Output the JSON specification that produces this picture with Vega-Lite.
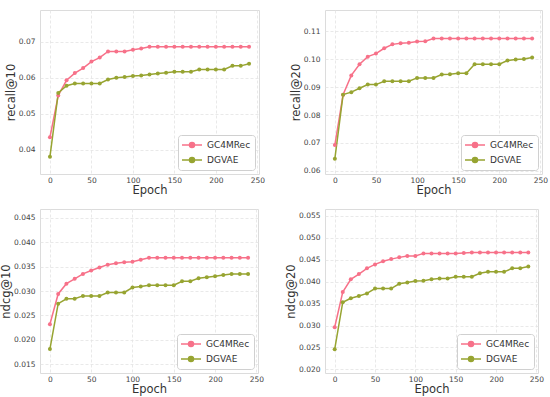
{
  "$schema": "https://vega.github.io/schema/vega-lite/v6.json",
  "padding": {"left": 0, "top": 9, "right": 0, "bottom": 0},
  "background": "white",
  "datasets": {
    "r10": [
      {"epoch":0,"model":"GC4MRec","value":0.0435},{"epoch":10,"model":"GC4MRec","value":0.0551},{"epoch":20,"model":"GC4MRec","value":0.0593},{"epoch":30,"model":"GC4MRec","value":0.0613},{"epoch":40,"model":"GC4MRec","value":0.0627},{"epoch":50,"model":"GC4MRec","value":0.0645},{"epoch":60,"model":"GC4MRec","value":0.0656},{"epoch":70,"model":"GC4MRec","value":0.0673},{"epoch":80,"model":"GC4MRec","value":0.0673},{"epoch":90,"model":"GC4MRec","value":0.0673},{"epoch":100,"model":"GC4MRec","value":0.0678},{"epoch":110,"model":"GC4MRec","value":0.0681},{"epoch":120,"model":"GC4MRec","value":0.0686},{"epoch":130,"model":"GC4MRec","value":0.0686},{"epoch":140,"model":"GC4MRec","value":0.0686},{"epoch":150,"model":"GC4MRec","value":0.0686},{"epoch":160,"model":"GC4MRec","value":0.0686},{"epoch":170,"model":"GC4MRec","value":0.0686},{"epoch":180,"model":"GC4MRec","value":0.0686},{"epoch":190,"model":"GC4MRec","value":0.0686},{"epoch":200,"model":"GC4MRec","value":0.0686},{"epoch":210,"model":"GC4MRec","value":0.0686},{"epoch":220,"model":"GC4MRec","value":0.0686},{"epoch":230,"model":"GC4MRec","value":0.0686},{"epoch":240,"model":"GC4MRec","value":0.0686},
      {"epoch":0,"model":"DGVAE","value":0.0381},{"epoch":10,"model":"DGVAE","value":0.0558},{"epoch":20,"model":"DGVAE","value":0.0578},{"epoch":30,"model":"DGVAE","value":0.0584},{"epoch":40,"model":"DGVAE","value":0.0584},{"epoch":50,"model":"DGVAE","value":0.0584},{"epoch":60,"model":"DGVAE","value":0.0584},{"epoch":70,"model":"DGVAE","value":0.0595},{"epoch":80,"model":"DGVAE","value":0.06},{"epoch":90,"model":"DGVAE","value":0.0602},{"epoch":100,"model":"DGVAE","value":0.0605},{"epoch":110,"model":"DGVAE","value":0.0606},{"epoch":120,"model":"DGVAE","value":0.0609},{"epoch":130,"model":"DGVAE","value":0.0612},{"epoch":140,"model":"DGVAE","value":0.0614},{"epoch":150,"model":"DGVAE","value":0.0617},{"epoch":160,"model":"DGVAE","value":0.0617},{"epoch":170,"model":"DGVAE","value":0.0617},{"epoch":180,"model":"DGVAE","value":0.0623},{"epoch":190,"model":"DGVAE","value":0.0623},{"epoch":200,"model":"DGVAE","value":0.0623},{"epoch":210,"model":"DGVAE","value":0.0623},{"epoch":220,"model":"DGVAE","value":0.0633},{"epoch":230,"model":"DGVAE","value":0.0633},{"epoch":240,"model":"DGVAE","value":0.0639}
    ],
    "r20": [
      {"epoch":0,"model":"GC4MRec","value":0.0693},{"epoch":10,"model":"GC4MRec","value":0.0873},{"epoch":20,"model":"GC4MRec","value":0.0942},{"epoch":30,"model":"GC4MRec","value":0.0982},{"epoch":40,"model":"GC4MRec","value":0.1009},{"epoch":50,"model":"GC4MRec","value":0.102},{"epoch":60,"model":"GC4MRec","value":0.1039},{"epoch":70,"model":"GC4MRec","value":0.1053},{"epoch":80,"model":"GC4MRec","value":0.1057},{"epoch":90,"model":"GC4MRec","value":0.1059},{"epoch":100,"model":"GC4MRec","value":0.1063},{"epoch":110,"model":"GC4MRec","value":0.1064},{"epoch":120,"model":"GC4MRec","value":0.1074},{"epoch":130,"model":"GC4MRec","value":0.1074},{"epoch":140,"model":"GC4MRec","value":0.1074},{"epoch":150,"model":"GC4MRec","value":0.1074},{"epoch":160,"model":"GC4MRec","value":0.1074},{"epoch":170,"model":"GC4MRec","value":0.1074},{"epoch":180,"model":"GC4MRec","value":0.1074},{"epoch":190,"model":"GC4MRec","value":0.1074},{"epoch":200,"model":"GC4MRec","value":0.1074},{"epoch":210,"model":"GC4MRec","value":0.1074},{"epoch":220,"model":"GC4MRec","value":0.1074},{"epoch":230,"model":"GC4MRec","value":0.1074},{"epoch":240,"model":"GC4MRec","value":0.1074},
      {"epoch":0,"model":"DGVAE","value":0.0644},{"epoch":10,"model":"DGVAE","value":0.0873},{"epoch":20,"model":"DGVAE","value":0.0882},{"epoch":30,"model":"DGVAE","value":0.0896},{"epoch":40,"model":"DGVAE","value":0.0909},{"epoch":50,"model":"DGVAE","value":0.0909},{"epoch":60,"model":"DGVAE","value":0.0921},{"epoch":70,"model":"DGVAE","value":0.0921},{"epoch":80,"model":"DGVAE","value":0.0921},{"epoch":90,"model":"DGVAE","value":0.0921},{"epoch":100,"model":"DGVAE","value":0.0933},{"epoch":110,"model":"DGVAE","value":0.0933},{"epoch":120,"model":"DGVAE","value":0.0933},{"epoch":130,"model":"DGVAE","value":0.0945},{"epoch":140,"model":"DGVAE","value":0.0946},{"epoch":150,"model":"DGVAE","value":0.095},{"epoch":160,"model":"DGVAE","value":0.095},{"epoch":170,"model":"DGVAE","value":0.0982},{"epoch":180,"model":"DGVAE","value":0.0982},{"epoch":190,"model":"DGVAE","value":0.0982},{"epoch":200,"model":"DGVAE","value":0.0982},{"epoch":210,"model":"DGVAE","value":0.0995},{"epoch":220,"model":"DGVAE","value":0.0999},{"epoch":230,"model":"DGVAE","value":0.1001},{"epoch":240,"model":"DGVAE","value":0.1006}
    ],
    "n10": [
      {"epoch":0,"model":"GC4MRec","value":0.0232},{"epoch":10,"model":"GC4MRec","value":0.0294},{"epoch":20,"model":"GC4MRec","value":0.0315},{"epoch":30,"model":"GC4MRec","value":0.0325},{"epoch":40,"model":"GC4MRec","value":0.0335},{"epoch":50,"model":"GC4MRec","value":0.0342},{"epoch":60,"model":"GC4MRec","value":0.0348},{"epoch":70,"model":"GC4MRec","value":0.0354},{"epoch":80,"model":"GC4MRec","value":0.0357},{"epoch":90,"model":"GC4MRec","value":0.0359},{"epoch":100,"model":"GC4MRec","value":0.036},{"epoch":110,"model":"GC4MRec","value":0.0364},{"epoch":120,"model":"GC4MRec","value":0.0368},{"epoch":130,"model":"GC4MRec","value":0.0368},{"epoch":140,"model":"GC4MRec","value":0.0368},{"epoch":150,"model":"GC4MRec","value":0.0368},{"epoch":160,"model":"GC4MRec","value":0.0368},{"epoch":170,"model":"GC4MRec","value":0.0368},{"epoch":180,"model":"GC4MRec","value":0.0368},{"epoch":190,"model":"GC4MRec","value":0.0368},{"epoch":200,"model":"GC4MRec","value":0.0368},{"epoch":210,"model":"GC4MRec","value":0.0368},{"epoch":220,"model":"GC4MRec","value":0.0368},{"epoch":230,"model":"GC4MRec","value":0.0368},{"epoch":240,"model":"GC4MRec","value":0.0368},
      {"epoch":0,"model":"DGVAE","value":0.0181},{"epoch":10,"model":"DGVAE","value":0.0274},{"epoch":20,"model":"DGVAE","value":0.0284},{"epoch":30,"model":"DGVAE","value":0.0284},{"epoch":40,"model":"DGVAE","value":0.029},{"epoch":50,"model":"DGVAE","value":0.029},{"epoch":60,"model":"DGVAE","value":0.029},{"epoch":70,"model":"DGVAE","value":0.0297},{"epoch":80,"model":"DGVAE","value":0.0297},{"epoch":90,"model":"DGVAE","value":0.0297},{"epoch":100,"model":"DGVAE","value":0.0307},{"epoch":110,"model":"DGVAE","value":0.0309},{"epoch":120,"model":"DGVAE","value":0.0312},{"epoch":130,"model":"DGVAE","value":0.0312},{"epoch":140,"model":"DGVAE","value":0.0312},{"epoch":150,"model":"DGVAE","value":0.0312},{"epoch":160,"model":"DGVAE","value":0.032},{"epoch":170,"model":"DGVAE","value":0.032},{"epoch":180,"model":"DGVAE","value":0.0326},{"epoch":190,"model":"DGVAE","value":0.0328},{"epoch":200,"model":"DGVAE","value":0.033},{"epoch":210,"model":"DGVAE","value":0.0333},{"epoch":220,"model":"DGVAE","value":0.0335},{"epoch":230,"model":"DGVAE","value":0.0335},{"epoch":240,"model":"DGVAE","value":0.0335}
    ],
    "n20": [
      {"epoch":0,"model":"GC4MRec","value":0.0296},{"epoch":10,"model":"GC4MRec","value":0.0376},{"epoch":20,"model":"GC4MRec","value":0.0405},{"epoch":30,"model":"GC4MRec","value":0.0417},{"epoch":40,"model":"GC4MRec","value":0.043},{"epoch":50,"model":"GC4MRec","value":0.0439},{"epoch":60,"model":"GC4MRec","value":0.0446},{"epoch":70,"model":"GC4MRec","value":0.0451},{"epoch":80,"model":"GC4MRec","value":0.0455},{"epoch":90,"model":"GC4MRec","value":0.0458},{"epoch":100,"model":"GC4MRec","value":0.0458},{"epoch":110,"model":"GC4MRec","value":0.0464},{"epoch":120,"model":"GC4MRec","value":0.0464},{"epoch":130,"model":"GC4MRec","value":0.0464},{"epoch":140,"model":"GC4MRec","value":0.0464},{"epoch":150,"model":"GC4MRec","value":0.0464},{"epoch":160,"model":"GC4MRec","value":0.0465},{"epoch":170,"model":"GC4MRec","value":0.0466},{"epoch":180,"model":"GC4MRec","value":0.0466},{"epoch":190,"model":"GC4MRec","value":0.0466},{"epoch":200,"model":"GC4MRec","value":0.0466},{"epoch":210,"model":"GC4MRec","value":0.0466},{"epoch":220,"model":"GC4MRec","value":0.0466},{"epoch":230,"model":"GC4MRec","value":0.0466},{"epoch":240,"model":"GC4MRec","value":0.0466},
      {"epoch":0,"model":"DGVAE","value":0.0246},{"epoch":10,"model":"DGVAE","value":0.0353},{"epoch":20,"model":"DGVAE","value":0.0362},{"epoch":30,"model":"DGVAE","value":0.0367},{"epoch":40,"model":"DGVAE","value":0.0373},{"epoch":50,"model":"DGVAE","value":0.0384},{"epoch":60,"model":"DGVAE","value":0.0384},{"epoch":70,"model":"DGVAE","value":0.0384},{"epoch":80,"model":"DGVAE","value":0.0395},{"epoch":90,"model":"DGVAE","value":0.0398},{"epoch":100,"model":"DGVAE","value":0.0401},{"epoch":110,"model":"DGVAE","value":0.0402},{"epoch":120,"model":"DGVAE","value":0.0405},{"epoch":130,"model":"DGVAE","value":0.0407},{"epoch":140,"model":"DGVAE","value":0.0407},{"epoch":150,"model":"DGVAE","value":0.0411},{"epoch":160,"model":"DGVAE","value":0.0411},{"epoch":170,"model":"DGVAE","value":0.0411},{"epoch":180,"model":"DGVAE","value":0.0419},{"epoch":190,"model":"DGVAE","value":0.0422},{"epoch":200,"model":"DGVAE","value":0.0422},{"epoch":210,"model":"DGVAE","value":0.0422},{"epoch":220,"model":"DGVAE","value":0.043},{"epoch":230,"model":"DGVAE","value":0.043},{"epoch":240,"model":"DGVAE","value":0.0434}
    ]
  },
  "bounds": "flush",
  "columns": 2,
  "spacing": {"row": 35, "column": 66},
  "resolve": {"scale": {"color": "independent", "x": "independent", "y": "independent"}, "legend": {"color": "independent"}},
  "concat": [
    {
      "width": 219, "height": 164,
      "data": {"name": "r10"},
      "mark": {"type": "line", "strokeWidth": 1.5, "point": {"filled": true, "size": 16}},
      "encoding": {
        "x": {"field": "epoch", "type": "quantitative", "scale": {"domain": [-12, 252], "nice": false, "zero": false}, "axis": {"values": [0, 50, 100, 150, 200, 250], "title": "Epoch"}},
        "y": {"field": "value", "type": "quantitative", "scale": {"domain": [0.0333, 0.0788], "nice": false, "zero": false}, "axis": {"values": [0.04, 0.05, 0.06, 0.07], "format": ".2f", "title": "recall@10"}},
        "color": {"field": "model", "type": "nominal", "scale": {"domain": ["GC4MRec", "DGVAE"], "range": ["#f77189", "#97a431"]}, "legend": {"title": null}}
      }
    },
    {
      "width": 217, "height": 164,
      "data": {"name": "r20"},
      "mark": {"type": "line", "strokeWidth": 1.5, "point": {"filled": true, "size": 16}},
      "encoding": {
        "x": {"field": "epoch", "type": "quantitative", "scale": {"domain": [-12, 252], "nice": false, "zero": false}, "axis": {"values": [0, 50, 100, 150, 200, 250], "title": "Epoch"}},
        "y": {"field": "value", "type": "quantitative", "scale": {"domain": [0.0589, 0.1176], "nice": false, "zero": false}, "axis": {"values": [0.06, 0.07, 0.08, 0.09, 0.1, 0.11], "format": ".2f", "title": "recall@20"}},
        "color": {"field": "model", "type": "nominal", "scale": {"domain": ["GC4MRec", "DGVAE"], "range": ["#f77189", "#97a431"]}, "legend": {"title": null}}
      }
    },
    {
      "width": 218, "height": 164,
      "data": {"name": "n10"},
      "mark": {"type": "line", "strokeWidth": 1.5, "point": {"filled": true, "size": 16}},
      "encoding": {
        "x": {"field": "epoch", "type": "quantitative", "scale": {"domain": [-12, 252], "nice": false, "zero": false}, "axis": {"values": [0, 50, 100, 150, 200, 250], "title": "Epoch"}},
        "y": {"field": "value", "type": "quantitative", "scale": {"domain": [0.0132, 0.0468], "nice": false, "zero": false}, "axis": {"values": [0.015, 0.02, 0.025, 0.03, 0.035, 0.04, 0.045], "format": ".3f", "title": "ndcg@10"}},
        "color": {"field": "model", "type": "nominal", "scale": {"domain": ["GC4MRec", "DGVAE"], "range": ["#f77189", "#97a431"]}, "legend": {"title": null}}
      }
    },
    {
      "width": 213, "height": 164,
      "data": {"name": "n20"},
      "mark": {"type": "line", "strokeWidth": 1.5, "point": {"filled": true, "size": 16}},
      "encoding": {
        "x": {"field": "epoch", "type": "quantitative", "scale": {"domain": [-12, 252], "nice": false, "zero": false}, "axis": {"values": [0, 50, 100, 150, 200, 250], "title": "Epoch"}},
        "y": {"field": "value", "type": "quantitative", "scale": {"domain": [0.0192, 0.0565], "nice": false, "zero": false}, "axis": {"values": [0.02, 0.025, 0.03, 0.035, 0.04, 0.045, 0.05, 0.055], "format": ".3f", "title": "ndcg@20"}},
        "color": {"field": "model", "type": "nominal", "scale": {"domain": ["GC4MRec", "DGVAE"], "range": ["#f77189", "#97a431"]}, "legend": {"title": null}}
      }
    }
  ],
  "config": {
    "font": "DejaVu Sans",
    "view": {"stroke": "#dcdcdc", "strokeWidth": 1},
    "axis": {"domain": false, "ticks": false, "labelFontSize": 7.5, "labelColor": "#444444", "labelPadding": 5, "titleFontSize": 11.5, "titleFontWeight": "normal", "titleColor": "#333333", "titlePadding": 2, "gridColor": "#e3e3e3", "gridDash": [3, 2], "gridWidth": 0.8},
    "axisX": {"labelFlush": false, "labelPadding": 2, "titlePadding": 1},
    "axisY": {"labelFlush": false},
    "legend": {
      "orient": "bottom-right",
      "offset": 4,
      "padding": 4,
      "strokeColor": "#d0d0d0",
      "fillColor": "white",
      "cornerRadius": 3,
      "labelFontSize": 9,
      "labelColor": "#333333",
      "labelOffset": 9,
      "symbolOffset": 4,
      "symbolSize": 100,
      "symbolStrokeWidth": 1.5,
      "symbolType": "M-2,0L2,0M-0.5,0A0.5,0.5,0,1,1,0.5,0A0.5,0.5,0,1,1,-0.5,0Z",
      "rowPadding": 3
    }
  }
}
